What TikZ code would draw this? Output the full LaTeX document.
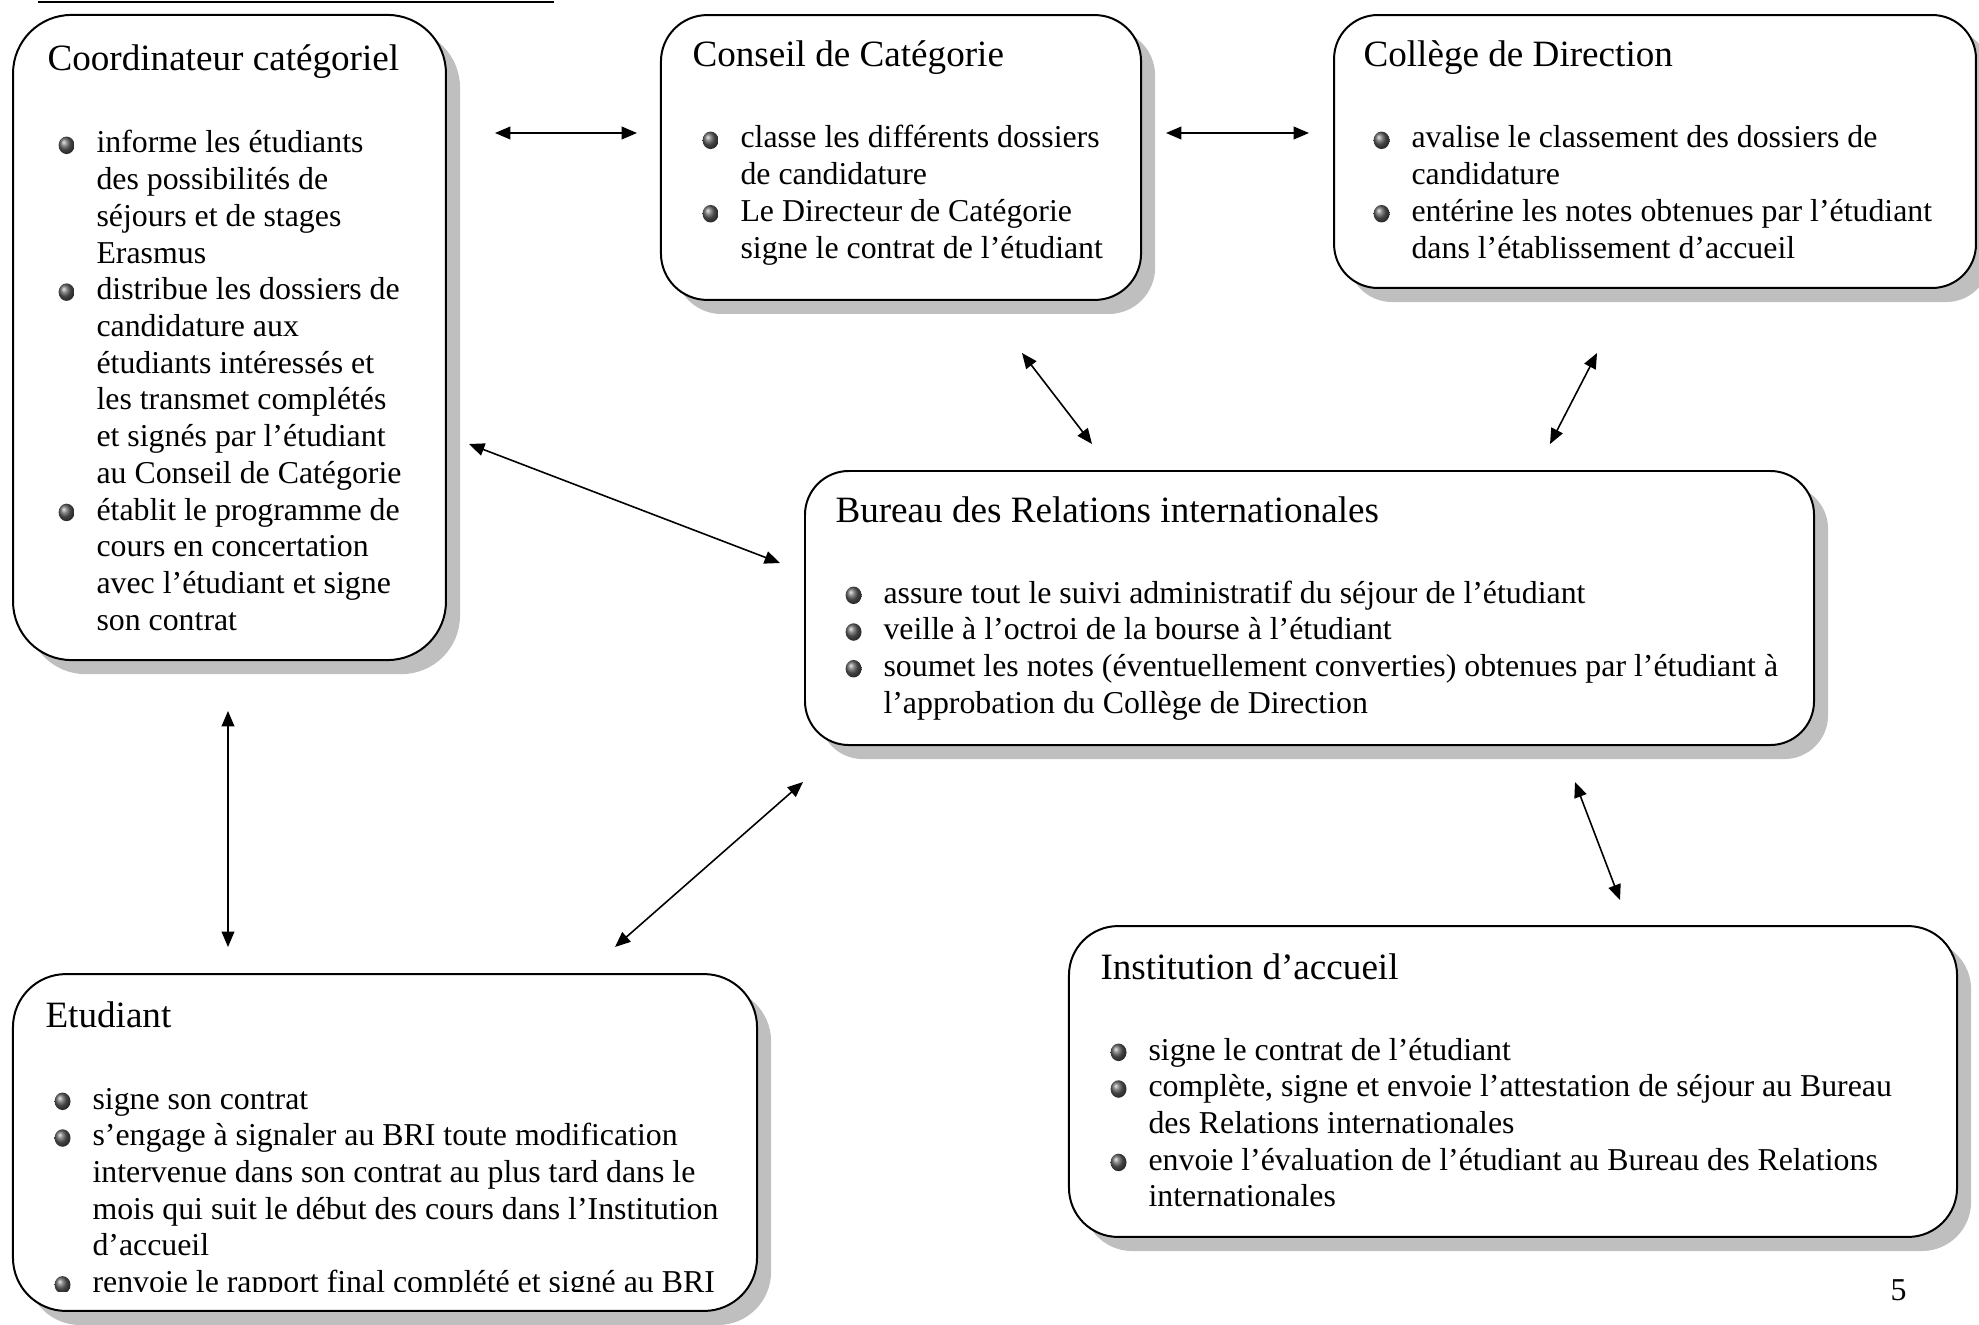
\documentclass[tikz,border=0pt]{standalone}
\usepackage{fontspec}
\setmainfont{Liberation Serif}
\usetikzlibrary{arrows.meta,shadows}

\tikzstyle{boite}=[draw,line width=0.75pt,fill=white,inner sep=0pt,
  drop shadow={shadow xshift=5.3pt,shadow yshift=-5.3pt,fill=black!25,opacity=1}]
\tikzstyle{titre}=[anchor=base west,inner sep=0pt,font=\fontsize{14}{16}\selectfont]
\tikzstyle{corps}=[anchor=base west,inner sep=0pt,font=\fontsize{12}{13.84}\selectfont]
\tikzstyle{edge}=[draw,line width=0.6pt,{Triangle[length=5.8pt,width=4.8pt]}-{Triangle[length=5.8pt,width=4.8pt]}]

\newcommand{\puce}{\llap{\raisebox{-0.4pt}{\tikz\shade[ball color=gray!75!black] (0,0) ellipse (3pt and 3.3pt);}\hspace{8.3pt}}}
\newcommand{\liste}[1]{\begin{tabular}[t]{@{}l@{}}#1\end{tabular}}

\begin{document}
\begin{tikzpicture}[x=0.377pt,y=-0.377pt]
    \useasboundingbox (0,0) rectangle (1979,1324);
    \draw[line width=0.75pt] (38,2) -- (554,2);

    % the six boxes
    \foreach \name/\pos/\w/\h/\r in {coord/{(229.5,337.5)}/163.2/243.2/22,
        conseil/{(901,157.5)}/181.0/107.4/17.5, college/{(1655,151.5)}/242.0/102.9/16.5,
        bureau/{(1309.5,608)}/380.4/103.3/16.5, institution/{(1513,1081.5)}/334.8/117.2/18.5,
        etudiant/{(385,1142.5)}/280.5/127/20}
    \node[boite,minimum width=\w pt,minimum height=\h pt,rounded corners=\r pt] (\name) at \pos {};

    % titles and lists
    \node[titre] (t-coord) at (47,71) {Coordinateur catégoriel};
    \node[corps] (l-coord) at (96,153) {\liste{\puce informe les étudiants\\
        des possibilités de\\ séjours et de stages\\ Erasmus\\
        \puce distribue les dossiers de\\ candidature aux\\ étudiants intéressés et\\
        les transmet complétés\\ et signés par l’étudiant\\ au Conseil de Catégorie\\
        \puce établit le programme de\\ cours en concertation\\ avec l’étudiant et signe\\
        son contrat}};

    \node[titre] (t-conseil) at (692,67) {Conseil de Catégorie};
    \node[corps] (l-conseil) at (740,148) {\liste{\puce classe les différents dossiers\\
        de candidature\\ \puce Le Directeur de Catégorie\\ signe le contrat de l’étudiant}};

    \node[titre] (t-college) at (1363,67) {Collège de Direction};
    \node[corps] (l-college) at (1411,148) {\liste{\puce avalise le classement des dossiers de\\
        candidature\\ \puce entérine les notes obtenues par l’étudiant\\
        dans l’établissement d’accueil}};

    \node[titre] (t-bureau) at (835,522) {Bureau des Relations internationales};
    \node[corps] (l-bureau) at (883,603) {\liste{\puce assure tout le suivi administratif du séjour de l’étudiant\\
        \puce veille à l’octroi de la bourse à l’étudiant\\
        \puce soumet les notes (éventuellement converties) obtenues par l’étudiant à\\
        l’approbation du Collège de Direction}};

    \node[titre] (t-institution) at (1100,979) {Institution d’accueil};
    \node[corps] (l-institution) at (1148,1060) {\liste{\puce signe le contrat de l’étudiant\\
        \puce complète, signe et envoie l’attestation de séjour au Bureau\\
        des Relations internationales\\
        \puce envoie l’évaluation de l’étudiant au Bureau des Relations\\
        internationales}};

    \node[titre] (t-etudiant) at (45,1027) {Etudiant};
    \begin{scope}
      \clip (13,974) rectangle (757,1291);
      \node[corps] (l-etudiant) at (92,1109) {\liste{\puce signe son contrat\\
          \puce s’engage à signaler au BRI toute modification\\
          intervenue dans son contrat au plus tard dans le\\
          mois qui suit le début des cours dans l’Institution\\
          d’accueil\\
          \puce renvoie le rapport final complété et signé au BRI}};
    \end{scope}

    \node[corps] (page) at (1890,1300) {5};

    % arrow ends
    \foreach \name/\pos in {a1/{(495,133)}, a2/{(637,133)}, b1/{(1166,133)}, b2/{(1309,133)},
        c1/{(1022,353)}, c2/{(1092,444)}, d1/{(1597,353)}, d2/{(1550,444)},
        e1/{(469,444)}, e2/{(780,563)}, f1/{(228,711)}, f2/{(228,947)},
        g1/{(803,782)}, g2/{(615,947)}, h1/{(1575,782)}, h2/{(1620,900)}}
    \node[coordinate] (\name) at \pos {};

    \foreach \source/\dest in {a1/a2, b1/b2, c1/c2, d1/d2, e1/e2, f1/f2, g1/g2, h1/h2}
    \path[edge] (\source) -- (\dest);
\end{tikzpicture}
\end{document}
